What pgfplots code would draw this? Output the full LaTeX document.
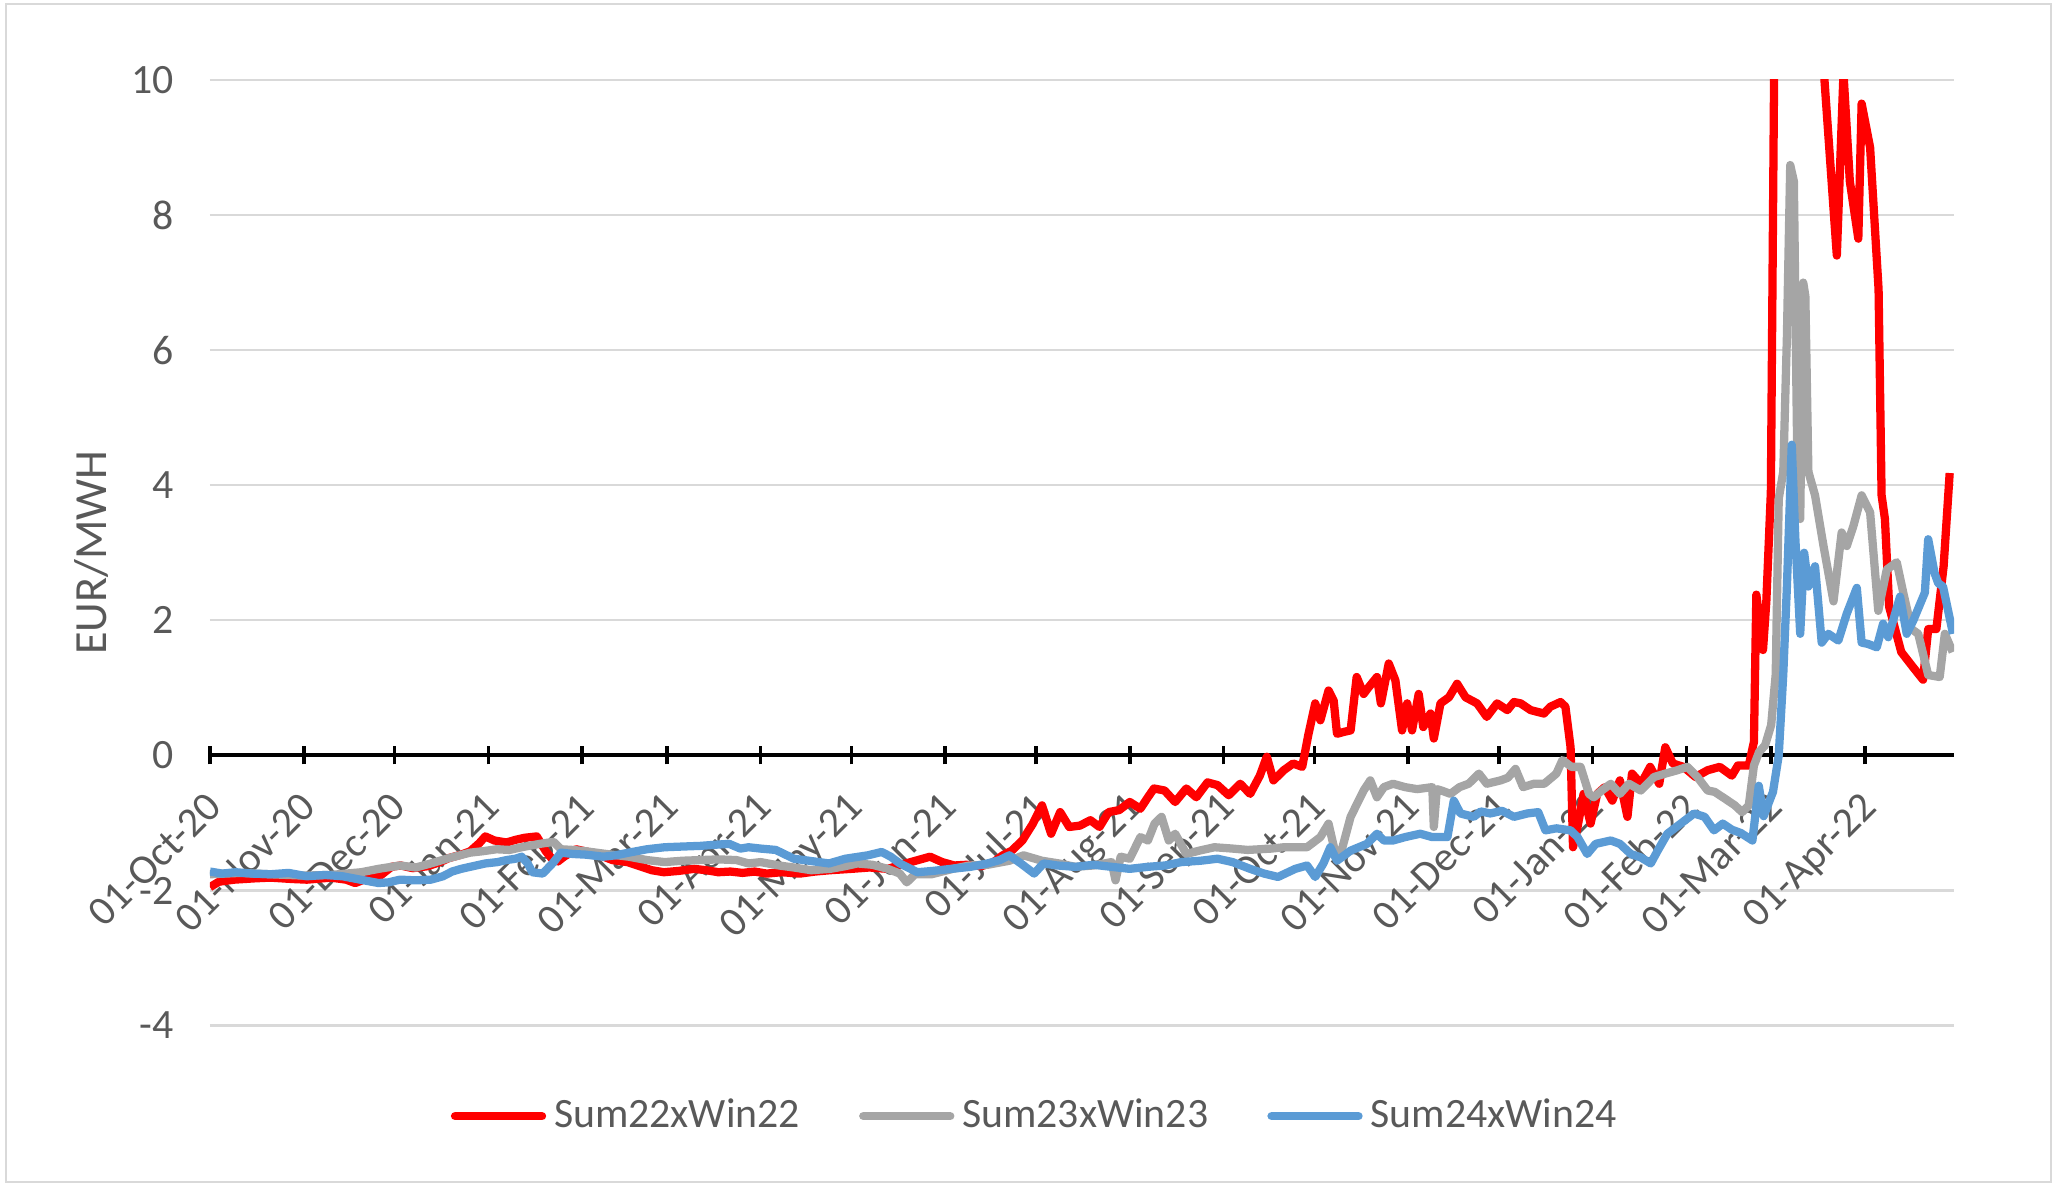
\documentclass[border=0pt]{standalone}
\usepackage{fontspec}
\setmainfont{Carlito}
\usepackage{pgfplots}
\pgfplotsset{compat=1.18}
\definecolor{sred}{HTML}{FF0000}
\definecolor{sgray}{HTML}{A5A5A5}
\definecolor{sblue}{HTML}{5B9BD5}
\definecolor{gridgray}{HTML}{D9D9D9}
\definecolor{txtgray}{HTML}{595959}
\begin{document}
\begin{tikzpicture}
\useasboundingbox (-53.3pt,-41.7pt) rectangle (469.3pt,260.3pt);
\draw[gridgray, line width=0.6pt] (-51.7pt,-39.7pt) rectangle (467.3pt,259.3pt);
\begin{axis}[
  at={(0,0)}, anchor=south west,
  scale only axis, width=442.7pt, height=240pt,
  xmin=0, xmax=576.5, ymin=-4, ymax=10,
  axis x line=middle, axis y line=left,
  axis line style={-},
  x axis line style={black, line width=1pt},
  y axis line style={draw=none},
  xtick={0,31,61,92,123,151,182,212,243,273,304,335,365,396,426,457,488,516,547},
  xticklabels={01-Oct-20,01-Nov-20,01-Dec-20,01-Jan-21,01-Feb-21,01-Mar-21,01-Apr-21,01-May-21,01-Jun-21,01-Jul-21,01-Aug-21,01-Sep-21,01-Oct-21,01-Nov-21,01-Dec-21,01-Jan-22,01-Feb-22,01-Mar-22,01-Apr-22},
  xtick style={black, line width=0.9pt},
  tick align=center, major tick length=4.6pt,
  ytick={-4,-2,0,2,4,6,8,10}, ytick style={draw=none},
  ymajorgrids, grid style={color=gridgray, line width=0.6pt},
  hide obscured x ticks=false, hide obscured y ticks=false,
  tick label style={font=\fontsize{10.6}{12}\selectfont, text=txtgray},
  xticklabel style={xshift=-1.5pt, yshift=-6.3pt, rotate=45, anchor=north east, inner sep=0pt},
  yticklabel style={xshift=-3.4pt},
  /pgf/number format/assume math mode=true,
  legend style={at={(rel axis cs:0.4745,-0.0958)}, anchor=center, draw=none, fill=none,
    legend columns=3, font=\fontsize{10.6}{12}\selectfont, text=txtgray,
    /tikz/every even column/.append style={column sep=13pt}},
  legend cell align=left,
  legend image code/.code={\draw[#1, line width=2.2pt, line cap=round] (0pt,0pt) -- (22pt,0pt);},
  every axis plot/.append style={line width=2.1pt, line join=round},
]
\addplot[sred] coordinates {(0,-1.95)(3,-1.87)(8,-1.84)(15,-1.82)(20,-1.81)(27,-1.83)(32,-1.84)(40,-1.81)(45,-1.84)(48,-1.89)(52,-1.82)(56,-1.79)(60,-1.65)(63,-1.63)(67,-1.67)(72,-1.64)(76,-1.58)(79,-1.52)(83,-1.47)(86,-1.42)(89,-1.30)(91,-1.20)(94,-1.26)(98,-1.29)(101,-1.25)(104,-1.22)(108,-1.20)(111,-1.42)(113,-1.53)(115,-1.57)(117,-1.50)(121,-1.39)(125,-1.43)(129,-1.48)(133,-1.55)(138,-1.58)(142,-1.64)(146,-1.70)(150,-1.73)(155,-1.71)(160,-1.68)(164,-1.70)(168,-1.73)(172,-1.72)(176,-1.74)(180,-1.72)(184,-1.75)(189,-1.73)(195,-1.75)(200,-1.72)(205,-1.70)(212,-1.68)(218,-1.66)(224,-1.68)(230,-1.60)(234,-1.55)(238,-1.50)(242,-1.58)(246,-1.63)(250,-1.62)(255,-1.64)(259,-1.58)(262,-1.48)(265,-1.41)(268.5,-1.26)(272,-1.01)(275,-0.74)(278,-1.16)(281,-0.84)(284,-1.06)(287.5,-1.04)(291,-0.96)(294,-1.06)(297,-0.84)(300.5,-0.81)(304,-0.69)(307.5,-0.79)(310,-0.62)(312,-0.49)(315.5,-0.52)(319,-0.69)(322.7,-0.49)(326,-0.62)(329.7,-0.40)(333,-0.44)(336.7,-0.59)(340.5,-0.42)(343.8,-0.57)(347,-0.30)(349.3,-0.02)(351.5,-0.37)(354.9,-0.22)(358,-0.12)(361,-0.17)(363,0.30)(365.3,0.77)(367,0.52)(369.7,0.96)(371.4,0.81)(372.5,0.32)(375,0.35)(377,0.37)(379,1.16)(381.3,0.91)(383,1.01)(385.7,1.16)(387,0.77)(389.6,1.36)(391.8,1.11)(394,0.37)(395.7,0.77)(397.3,0.37)(399.5,0.91)(401,0.42)(403.4,0.62)(404.5,0.25)(406.7,0.77)(409.5,0.86)(412.2,1.06)(415,0.86)(418.8,0.77)(422,0.57)(425.4,0.77)(428.8,0.67)(431,0.79)(433.2,0.77)(436.5,0.67)(440.9,0.62)(443,0.72)(446.4,0.79)(448,0.72)(449.7,0.12)(450.5,-1.36)(452,-1.06)(454,-0.57)(456.3,-1.01)(458.5,-0.57)(461,-0.47)(463.5,-0.67)(466,-0.37)(468.5,-0.91)(470,-0.27)(473,-0.42)(476,-0.17)(479,-0.42)(481,0.12)(483.5,-0.12)(487,-0.17)(491,-0.32)(495,-0.22)(499,-0.17)(503,-0.30)(505,-0.15)(508.6,-0.15)(510.3,0.20)(511.1,2.38)(513.3,1.56)(514.4,2.28)(515.9,3.90)(517.3,12)(520,16)(524,17)(528,15)(531,13)(533.3,10.2)(537.7,7.4)(539.9,10.1)(542,8.5)(544.8,7.65)(545.9,9.65)(548.7,9.0)(551.5,6.9)(552.5,3.85)(553.6,3.5)(555,2.2)(559,1.53)(563,1.3)(566.2,1.12)(567.9,1.87)(570.6,1.87)(573,2.8)(575,4.18)};
\addlegendentry{Sum22xWin22}
\addplot[sgray] coordinates {(0,-1.76)(10,-1.74)(20,-1.76)(31,-1.78)(40,-1.77)(45,-1.75)(50,-1.73)(55.7,-1.68)(62.8,-1.63)(68,-1.66)(73,-1.60)(79,-1.52)(86,-1.44)(90,-1.42)(94.7,-1.39)(99,-1.40)(103,-1.36)(109,-1.31)(113.6,-1.28)(116,-1.39)(120,-1.40)(124.3,-1.42)(131,-1.46)(138.4,-1.50)(144.4,-1.55)(150.3,-1.58)(156,-1.56)(162,-1.55)(168,-1.54)(174,-1.55)(178,-1.60)(182,-1.58)(188,-1.63)(193,-1.66)(198.7,-1.70)(205,-1.68)(210,-1.64)(214,-1.60)(219,-1.62)(224,-1.68)(228,-1.75)(230.3,-1.88)(233,-1.76)(238.5,-1.76)(245.5,-1.68)(251,-1.63)(257,-1.62)(264.2,-1.56)(268.9,-1.48)(275,-1.56)(280.6,-1.60)(286,-1.65)(292,-1.63)(298,-1.58)(299.3,-1.85)(301,-1.50)(304,-1.53)(307.5,-1.21)(310,-1.26)(312.2,-1.01)(314.5,-0.91)(316.9,-1.26)(319,-1.16)(322.7,-1.46)(327,-1.41)(332,-1.36)(338,-1.38)(343,-1.40)(350.8,-1.38)(355,-1.36)(362.6,-1.36)(367,-1.21)(369.7,-1.01)(372,-1.46)(374,-1.41)(377,-0.91)(381.3,-0.52)(383.5,-0.37)(385.7,-0.62)(388,-0.47)(391,-0.42)(395,-0.47)(399,-0.50)(404,-0.47)(404.5,-1.06)(405.5,-0.50)(407,-0.52)(410,-0.57)(413,-0.47)(416,-0.42)(419.4,-0.27)(422,-0.42)(426.6,-0.37)(429,-0.33)(431.5,-0.20)(434,-0.47)(437.6,-0.42)(441,-0.42)(445,-0.27)(447,-0.07)(450,-0.17)(453,-0.17)(455.8,-0.57)(457.4,-0.62)(460,-0.52)(463,-0.42)(466,-0.57)(469,-0.42)(472.9,-0.52)(477.3,-0.32)(481,-0.27)(485,-0.22)(488.3,-0.17)(491.6,-0.32)(495,-0.52)(497.3,-0.54)(500.7,-0.64)(504,-0.74)(506.4,-0.84)(508.6,-0.74)(510.3,-0.15)(512,0.05)(514,0.15)(516,0.45)(517.5,1.2)(518.5,3.8)(520,4.2)(521.2,6.2)(522.3,8.74)(523.5,8.5)(524.6,4.5)(525.6,3.5)(526.6,7.0)(527.3,6.8)(528.3,4.2)(530.5,3.85)(533.3,3.1)(536.6,2.28)(539.3,3.3)(541,3.1)(543.2,3.4)(545.9,3.85)(548.7,3.6)(551.4,2.14)(554.2,2.75)(557.5,2.86)(559.7,2.4)(562.4,1.87)(564.6,1.8)(567.9,1.19)(571.7,1.16)(573.4,1.8)(576,1.53)};
\addlegendentry{Sum23xWin23}
\addplot[sblue] coordinates {(0,-1.72)(4,-1.75)(8.4,-1.73)(14,-1.75)(20,-1.76)(26,-1.74)(32,-1.79)(38,-1.77)(43.8,-1.79)(49.7,-1.84)(55.7,-1.89)(59,-1.88)(62.8,-1.84)(68,-1.85)(73,-1.84)(77,-1.79)(80,-1.72)(83,-1.68)(87,-1.64)(91,-1.60)(95,-1.58)(98,-1.55)(101,-1.53)(103,-1.50)(105,-1.60)(106.5,-1.73)(110,-1.75)(113.6,-1.58)(116,-1.44)(120,-1.46)(124.3,-1.47)(130,-1.50)(134,-1.48)(138.4,-1.44)(144.4,-1.39)(150.3,-1.36)(156,-1.35)(162,-1.34)(168,-1.32)(171.6,-1.31)(175.3,-1.38)(178,-1.36)(182,-1.38)(187,-1.40)(193,-1.53)(198,-1.56)(204.6,-1.60)(210,-1.53)(217.4,-1.48)(222,-1.43)(225,-1.50)(228,-1.60)(233.8,-1.73)(239,-1.71)(245,-1.68)(251.4,-1.65)(257,-1.60)(261,-1.55)(264.2,-1.48)(268,-1.60)(272.4,-1.75)(275.5,-1.60)(280,-1.63)(286,-1.65)(292,-1.62)(298,-1.65)(304,-1.68)(310,-1.65)(315.7,-1.63)(321,-1.58)(327.4,-1.56)(333,-1.53)(338,-1.58)(343.8,-1.68)(348.4,-1.75)(353,-1.80)(358.7,-1.68)(362.6,-1.63)(365.3,-1.80)(368,-1.60)(370.3,-1.36)(372.5,-1.56)(377,-1.41)(382.4,-1.31)(385.7,-1.16)(388,-1.26)(391,-1.26)(395,-1.21)(400,-1.16)(404,-1.21)(409,-1.21)(411.1,-0.67)(413.3,-0.86)(417.7,-0.91)(420,-0.83)(423.2,-0.86)(427,-0.82)(431,-0.91)(435.4,-0.86)(439,-0.84)(441.4,-1.11)(445,-1.08)(449.7,-1.11)(452,-1.21)(455.2,-1.46)(458,-1.31)(463,-1.26)(466,-1.31)(469.6,-1.46)(472.9,-1.51)(476.2,-1.60)(478.5,-1.41)(481.7,-1.16)(486.1,-1.01)(490.5,-0.86)(494,-0.91)(497.1,-1.11)(500,-1.01)(503,-1.10)(506,-1.15)(509.8,-1.26)(511.9,-0.45)(513.5,-0.90)(516.6,-0.54)(518.5,0.0)(520,1.2)(521.2,2.5)(522.2,3.8)(522.8,4.6)(524,3.2)(525.6,1.8)(526.9,3.0)(528.3,2.5)(530.5,2.8)(532.7,1.67)(534.9,1.8)(538.2,1.7)(541,2.1)(544.3,2.48)(545.9,1.67)(548,1.65)(550.9,1.6)(553,1.95)(554.7,1.75)(558.6,2.35)(560.8,1.8)(563,2.0)(566.8,2.41)(567.9,3.2)(570,2.7)(571.2,2.55)(572.8,2.5)(576.1,1.8)};
\addlegendentry{Sum24xWin24}
\end{axis}
\node[rotate=90, text=txtgray, font=\fontsize{11.7}{13}\selectfont] at (-30pt,120pt) {EUR/MWH};
\end{tikzpicture}
\end{document}
